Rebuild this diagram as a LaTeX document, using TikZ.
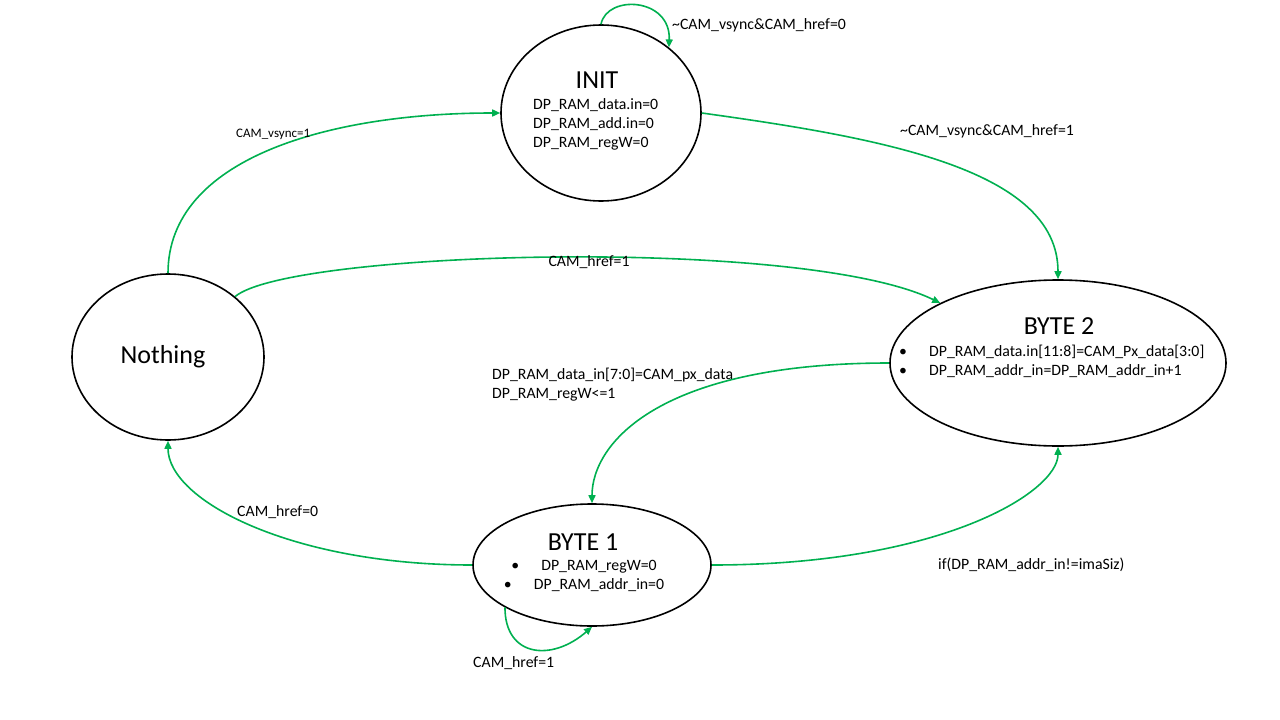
\documentclass[tikz,border=0pt]{standalone}
\usepackage{fontspec}
\setmainfont{Carlito}
\usepackage{tikz}
\usetikzlibrary{shapes.geometric,arrows.meta}
\definecolor{trgreen}{RGB}{0,176,80}
\newcommand{\bul}{\makebox[30pt][l]{\textbullet}}

\begin{document}
\begin{tikzpicture}[x=1pt,y=1pt,
  state/.style={draw,ellipse,line width=1.6pt,inner sep=0pt},
  trans/.style={draw=trgreen,line width=1.6pt,-{Triangle[length=8pt,width=7pt]}},
  ttl/.style={font=\fontsize{26}{30}\selectfont,inner sep=0pt},
  lbl/.style={font=\fontsize{15.8}{19}\selectfont,inner sep=0pt}]
\useasboundingbox (0,0) rectangle (1280,-720);
\node[state,minimum width=200pt,minimum height=176pt] (init) at (601,-113){};
\node[state,minimum width=192pt,minimum height=166pt] (noth) at (168,-357){};
\node[state,minimum width=336pt,minimum height=166pt] (b2) at (1058,-363){};
\node[state,minimum width=238pt,minimum height=122pt] (b1) at (592,-565){};
% state texts
\node[ttl] (tinit) at (597,-80){INIT};
\node[lbl,anchor=west,align=left] (dinit) at (533,-124){DP\_RAM\_data.in=0\\DP\_RAM\_add.in=0\\DP\_RAM\_regW=0};
\node[ttl] (tnoth) at (163,-357){Nothing};
\node[ttl] (tb2) at (1059,-326){BYTE 2};
\node[lbl,anchor=west,align=left] (db2) at (899,-361){\bul DP\_RAM\_data.in[11:8]=CAM\_Px\_data[3:0]\\\bul DP\_RAM\_addr\_in=DP\_RAM\_addr\_in+1};
\node[ttl] (tb1) at (583,-542){BYTE 1};
\node[lbl,align=center] (db1) at (584,-576){\bul DP\_RAM\_regW=0\\\bul DP\_RAM\_addr\_in=0};
% transitions
\draw[trans] (init.north) .. controls +(6,30) and +(2,50) .. (init.44);
\draw[trans] (noth.north) .. controls +(0,115) and +(-171,0) .. (init.west);
\draw[trans] (init.east) .. controls +(180,-25) and +(0,110) .. (b2.north);
\draw[trans] (noth.42) .. controls +(54,46) and +(-138,67) .. (b2.153);
\draw[trans] (b2.west) .. controls +(-230,0) and +(0,60) .. (b1.north);
\draw[trans] (b1.west) .. controls +(-180,0) and +(0,-60) .. (noth.south);
\draw[trans] (b1.east) .. controls +(230,0) and +(0,-45) .. (b2.south);
\draw[trans] (b1.206) .. controls +(0,-50) and +(-40,-35) .. (b1.south);
% transition labels
\node[lbl,anchor=west] (l1) at (672,-25){\textasciitilde CAM\_vsync\&CAM\_href=0};
\node[lbl,anchor=west,font=\fontsize{13}{15}\selectfont] (l2) at (236,-134){CAM\_vsync=1};
\node[lbl,anchor=west] (l3) at (900,-131){\textasciitilde CAM\_vsync\&CAM\_href=1};
\node[lbl] (l4) at (589,-262){CAM\_href=1};
\node[lbl,anchor=west,align=left] (l5) at (492,-385){DP\_RAM\_data\_in[7:0]=CAM\_px\_data\\DP\_RAM\_regW<=1};
\node[lbl,anchor=west] (l6) at (237,-512){CAM\_href=0};
\node[lbl,anchor=west] (l7) at (938,-565){if(DP\_RAM\_addr\_in!=imaSiz)};
\node[lbl,anchor=west] (l8) at (473,-663){CAM\_href=1};
\end{tikzpicture}
\end{document}
